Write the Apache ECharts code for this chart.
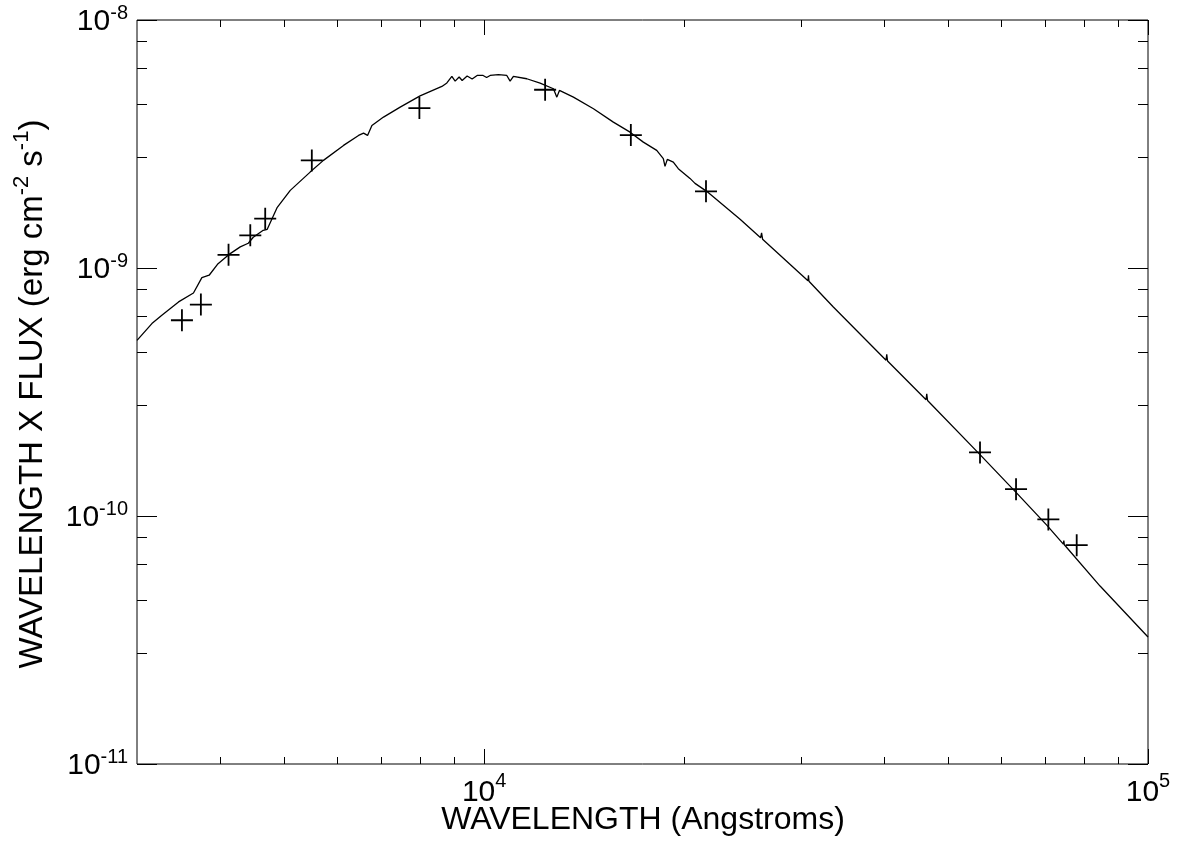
<!DOCTYPE html>
<html>
<head>
<meta charset="utf-8">
<title>Spectral energy distribution</title>
<script src="https://cdn.jsdelivr.net/npm/echarts@6/dist/echarts.min.js"></script>
<style>
  html, body { margin: 0; padding: 0; background: #fff; }
  #chart { width: 1179px; height: 849px; }
</style>
</head>
<body>
<div id="chart"></div>
<script>
// Model spectrum: wavelength (Angstroms) and wavelength x flux (erg cm^-2 s^-1)
const modelWave = [3000, 3159, 3270, 3465, 3649, 3757, 3853, 3966, 4145, 4292, 4413, 4490, 4648, 4713, 4880, 5105, 5469, 5727, 6141, 6469, 6582, 6674, 6776, 7054, 7474, 8008, 8637, 8788, 8941, 9044, 9170, 9266, 9428, 9593, 9760, 9965, 10087, 10210, 10508, 10818, 10943, 11069, 11594, 12143, 12718, 12869, 12985, 13630, 14612, 15655, 16588, 17370, 18196, 18617, 18727, 18877, 19274, 19611, 20423, 20780, 21640, 24297, 26088, 26178, 26269, 30747, 30800, 30854, 33575, 40310, 40409, 40521, 46310, 46424, 46552, 55842, 63428, 70386, 74556, 74680, 74810, 84684, 100000];
const modelFlux = [5.11e-10, 5.97e-10, 6.45e-10, 7.30e-10, 7.93e-10, 9.15e-10, 9.35e-10, 1.035e-9, 1.143e-9, 1.217e-9, 1.258e-9, 1.330e-9, 1.419e-9, 1.432e-9, 1.757e-9, 2.056e-9, 2.436e-9, 2.716e-9, 3.121e-9, 3.424e-9, 3.498e-9, 3.424e-9, 3.757e-9, 4.060e-9, 4.454e-9, 4.941e-9, 5.397e-9, 5.575e-9, 5.920e-9, 5.667e-9, 5.893e-9, 5.704e-9, 5.948e-9, 5.785e-9, 5.975e-9, 5.975e-9, 5.866e-9, 5.975e-9, 6.020e-9, 5.975e-9, 5.667e-9, 5.920e-9, 5.796e-9, 5.564e-9, 5.282e-9, 4.886e-9, 5.200e-9, 4.886e-9, 4.388e-9, 3.874e-9, 3.530e-9, 3.218e-9, 2.980e-9, 2.759e-9, 2.568e-9, 2.741e-9, 2.673e-9, 2.514e-9, 2.298e-9, 2.194e-9, 2.037e-9, 1.571e-9, 1.323e-9, 1.386e-9, 1.307e-9, 8.88e-10, 9.35e-10, 8.84e-10, 6.965e-10, 4.248e-10, 4.491e-10, 4.217e-10, 2.944e-10, 3.112e-10, 2.922e-10, 1.768e-10, 1.237e-10, 9.19e-11, 7.70e-11, 7.96e-11, 7.66e-11, 5.218e-11, 3.251e-11];

// Photometric measurements
const photWave = [3506, 3744, 4121, 4444, 4680, 5501, 7989, 12356, 16634, 21588, 55842, 63274, 70778, 78091];
const photFlux = [6.155e-10, 7.122e-10, 1.130e-9, 1.355e-9, 1.581e-9, 2.716e-9, 4.413e-9, 5.234e-9, 3.434e-9, 2.037e-9, 1.804e-10, 1.283e-10, 9.69e-11, 7.63e-11];

// Axis ranges and tick values
const X_MIN = 3000, X_MAX = 100000;
const Y_MIN = 1e-11, Y_MAX = 1e-8;
const xMajorTicks = [10000, 100000];
const xMinorTicks = [4000, 5000, 6000, 7000, 8000, 9000, 20000, 30000, 40000, 50000, 60000, 70000, 80000, 90000];
const yMajorTicks = [1e-11, 1e-10, 1e-9, 1e-8];
const yMinorTicks = [2.8e-11, 4.6e-11, 6.4e-11, 8.2e-11, 2.8e-10, 4.6e-10, 6.4e-10, 8.2e-10, 2.8e-9, 4.6e-9, 6.4e-9, 8.2e-9];

const FONT = '"Liberation Sans", Arial, Helvetica, sans-serif';

function powerLabel(v) {
  const e = Math.log10(v);
  const r = Math.round(e);
  if (Math.abs(e - r) > 1e-6) return '';
  return '{b|10}{s|' + r + '}';
}

const snap = (p) => Math.round(p) + 0.5;

// Ticks on bottom and top edges, pointing inward
function renderXTick(params, api) {
  const v = api.value(0);
  const len = api.value(2) ? 15 : 7;
  const b = api.coord([v, Y_MIN]);
  const t = api.coord([v, Y_MAX]);
  const x = snap(b[0]);
  const style = { stroke: '#000', lineWidth: 1 };
  return {
    type: 'group',
    children: [
      { type: 'line', shape: { x1: x, y1: b[1], x2: x, y2: b[1] - len }, style: style },
      { type: 'line', shape: { x1: x, y1: t[1], x2: x, y2: t[1] + len }, style: style }
    ]
  };
}

// Ticks on left and right edges, pointing inward
function renderYTick(params, api) {
  const v = api.value(1);
  const len = api.value(2) ? 20 : 10;
  const l = api.coord([X_MIN, v]);
  const r = api.coord([X_MAX, v]);
  const y = snap(l[1]);
  const style = { stroke: '#000', lineWidth: 1 };
  return {
    type: 'group',
    children: [
      { type: 'line', shape: { x1: l[0], y1: y, x2: l[0] + len, y2: y }, style: style },
      { type: 'line', shape: { x1: r[0], y1: y, x2: r[0] - len, y2: y }, style: style }
    ]
  };
}

const xTickData = xMajorTicks.map(v => [v, Y_MIN, 1]).concat(xMinorTicks.map(v => [v, Y_MIN, 0]));
const yTickData = yMajorTicks.map(v => [X_MIN, v, 1]).concat(yMinorTicks.map(v => [X_MIN, v, 0]));

const chart = echarts.init(document.getElementById('chart'), null, { renderer: 'canvas' });

const option = {
  animation: false,
  backgroundColor: '#fff',
  grid: {
    left: 137, right: 31, top: 20, bottom: 85,
    show: true, borderColor: '#000', borderWidth: 1, backgroundColor: 'transparent',
    containLabel: false,
    outerBoundsMode: 'none'
  },
  xAxis: {
    type: 'log', logBase: 10, min: X_MIN, max: X_MAX,
    axisLine: { show: false },
    axisTick: { show: false },
    splitLine: { show: false },
    axisLabel: {
      showMinLabel: true, showMaxLabel: true,
      margin: 7,
      formatter: powerLabel,
      rich: {
        b: { fontSize: 30, fontFamily: FONT, color: '#000', padding: [7, 0, 0, 0] },
        s: { fontSize: 20, fontFamily: FONT, color: '#000', verticalAlign: 'top' }
      }
    }
  },
  yAxis: {
    type: 'log', logBase: 10, min: Y_MIN, max: Y_MAX,
    axisLine: { show: false },
    axisTick: { show: false },
    splitLine: { show: false },
    axisLabel: {
      showMinLabel: true, showMaxLabel: true,
      margin: 9,
      formatter: powerLabel,
      rich: {
        b: { fontSize: 30, fontFamily: FONT, color: '#000', padding: [4, 0, 0, 0] },
        s: { fontSize: 20, fontFamily: FONT, color: '#000', verticalAlign: 'top' }
      }
    }
  },
  graphic: [
    {
      type: 'text', x: 643, y: 820, silent: true,
      style: {
        text: 'WAVELENGTH (Angstroms)',
        font: '32px ' + FONT, fill: '#000',
        align: 'center', verticalAlign: 'middle',
        textAlign: 'center', textVerticalAlign: 'middle'
      }
    },
    {
      type: 'text', x: 30, y: 394, rotation: Math.PI / 2, silent: true,
      style: {
        text: '{a|WAVELENGTH X FLUX (erg cm}{s|-2}{a| s}{s|-1}{a|)}',
        fill: '#000',
        align: 'center', verticalAlign: 'middle',
        textAlign: 'center', textVerticalAlign: 'middle',
        rich: {
          a: { fontSize: 33, fontFamily: FONT, fill: '#000', color: '#000', padding: [5, 0, 0, 0] },
          s: { fontSize: 22, fontFamily: FONT, fill: '#000', color: '#000', verticalAlign: 'top' }
        }
      }
    }
  ],
  series: [
    {
      name: 'model',
      type: 'line',
      data: modelWave.map((w, i) => [w, modelFlux[i]]),
      showSymbol: false,
      symbol: 'none',
      smooth: false,
      silent: true,
      lineStyle: { color: '#000', width: 1.3 },
      z: 3
    },
    {
      name: 'photometry',
      type: 'scatter',
      data: photWave.map((w, i) => [w, photFlux[i]]),
      symbol: 'path://M10.1,0 H11.9 V10.1 H22 V11.9 H11.9 V22 H10.1 V11.9 H0 V10.1 H10.1 Z',
      symbolSize: 22,
      silent: true,
      itemStyle: { color: '#000', opacity: 1 },
      z: 4
    },
    {
      name: 'xticks',
      type: 'custom',
      renderItem: renderXTick,
      data: xTickData,
      encode: { x: 0, y: 1 },
      silent: true,
      z: 5
    },
    {
      name: 'yticks',
      type: 'custom',
      renderItem: renderYTick,
      data: yTickData,
      encode: { x: 0, y: 1 },
      silent: true,
      z: 5
    }
  ]
};

chart.setOption(option);
</script>
</body>
</html>
